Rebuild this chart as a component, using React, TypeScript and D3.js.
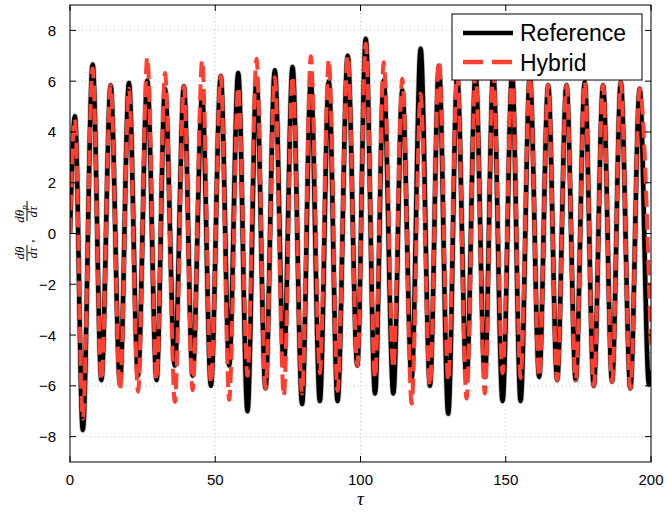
import React from "react";
import * as d3 from "d3";

// Extremes (tau, value)
const refTau = [0, 1.7, 4.4, 7.8, 10.8, 14.0, 17.2, 20.3, 23.4, 26.6, 29.8, 32.7, 36.1, 39.2, 42.2, 45.5, 48.5, 51.9, 54.8, 57.9, 61.1, 64.2, 67.3, 70.5, 73.6, 76.6, 79.9, 82.9, 86.0, 89.1, 92.1, 95.6, 98.9, 101.8, 105.0, 108.0, 111.3, 114.4, 117.6, 120.7, 123.9, 127.0, 130.2, 133.3, 136.5, 139.6, 142.8, 145.7, 148.9, 152.2, 155.1, 158.3, 161.5, 164.6, 167.7, 170.9, 174.1, 177.2, 180.3, 183.5, 186.6, 189.6, 192.9, 196.1, 199.3, 200];
const refVal = [0, 4.62, -7.74, 6.66, -5.77, 5.84, -5.9, 5.93, -5.6, 6.03, -5.77, 5.7, -5.2, 5.8, -5.6, 5.4, -6.0, 6.2, -5.2, 6.32, -7.0, 6.1, -6.1, 6.43, -5.2, 6.56, -6.72, 6.0, -6.6, 6.0, -6.6, 7.0, -5.2, 7.67, -6.3, 6.03, -6.3, 5.64, -5.7, 7.28, -6.0, 6.6, -7.1, 6.2, -5.8, 6.3, -5.65, 6.3, -6.6, 6.3, -6.6, 6.2, -5.65, 5.84, -5.77, 5.84, -5.77, 5.96, -6.0, 5.84, -5.83, 5.96, -6.1, 5.7, -5.95, -5.4];

const hybTau = [0, 1.7, 4.4, 7.8, 10.8, 14.0, 17.2, 20.3, 23.4, 26.6, 29.8, 32.7, 36.1, 39.2, 42.2, 45.5, 48.5, 51.9, 54.8, 57.9, 61.1, 64.2, 67.3, 70.5, 73.6, 76.6, 79.9, 82.9, 86.0, 89.1, 92.1, 95.6, 98.9, 101.8, 105.0, 108.0, 111.3, 114.4, 117.6, 120.7, 123.9, 127.0, 130.2, 133.3, 136.5, 139.6, 142.8, 145.7, 148.9, 152.2, 155.1, 158.3, 161.5, 164.6, 167.7, 170.9, 174.1, 177.2, 180.3, 183.5, 186.6, 189.6, 192.9, 196.1, 200];
const hybVal = [0, 4.5, -7.3, 6.5, -5.77, 5.84, -6.17, 5.7, -6.23, 6.94, -5.77, 6.32, -6.63, 5.8, -6.17, 6.82, -5.9, 6.2, -6.55, 5.77, -5.6, 6.88, -6.1, 6.15, -6.4, 6.2, -6.3, 6.98, -5.5, 6.85, -6.2, 7.0, -5.2, 7.47, -5.7, 6.75, -5.3, 6.1, -6.7, 5.5, -6.0, 6.78, -5.8, 6.3, -6.5, 6.3, -6.3, 6.3, -5.5, 6.3, -5.7, 6.2, -5.65, 5.84, -5.77, 5.84, -5.77, 5.96, -6.0, 5.84, -5.83, 5.96, -6.1, 5.7, -4.7];

const xTicks = [0, 50, 100, 150, 200];
const yTicks = [-8, -6, -4, -2, 0, 2, 4, 6, 8];
const legendLabels = ["Reference", "Hybrid"];

const RED = "rgb(255,64,48)";

export default function App() {
  const left = 70, right = 651, top = 5, bottom = 462;
  const x = d3.scaleLinear().domain([0, 200]).range([left, right]);
  const y = d3.scaleLinear().domain([-9, 9]).range([bottom, top]);
  const line = d3
    .line<[number, number]>()
    .x((d) => x(d[0]))
    .y((d) => y(d[1]))
    .curve(d3.curveMonotoneX);
  const refPts = refTau.map((t, i) => [t, refVal[i]] as [number, number]);
  const hybPts = hybTau.map((t, i) => [t, hybVal[i]] as [number, number]);
  const font = "'Liberation Sans', Arial, sans-serif";
  const serif = "'Liberation Serif', 'DejaVu Serif', serif";
  const tl = 6;

  return (
    <svg width={668} height={517} style={{ display: "block", position: "absolute", left: 0, top: 0 }}>
      <rect x={0} y={0} width={668} height={517} fill="#fff" />
      <defs>
        <clipPath id="plotclip">
          <rect x={left} y={top} width={right - left} height={bottom - top} />
        </clipPath>
      </defs>
      {/* grid */}
      {xTicks.map((t) => (
        <line key={"gx" + t} x1={x(t)} x2={x(t)} y1={top} y2={bottom} stroke="#c8c8c8" strokeWidth={1} strokeDasharray="1,3" />
      ))}
      {yTicks.map((t) => (
        <line key={"gy" + t} x1={left} x2={right} y1={y(t)} y2={y(t)} stroke="#c8c8c8" strokeWidth={1} strokeDasharray="1,3" />
      ))}
      <g clipPath="url(#plotclip)">
        <path d={line(refPts) || ""} fill="none" stroke="#888" strokeOpacity={0.5} strokeWidth={6} strokeLinejoin="round" />
        <path d={line(refPts) || ""} fill="none" stroke="#000" strokeWidth={4.5} strokeLinejoin="round" />
        <path d={line(hybPts) || ""} fill="none" stroke={RED} strokeWidth={4} strokeDasharray="16,7" />
      </g>
      {/* box */}
      <rect x={left} y={top} width={right - left} height={bottom - top} fill="none" stroke="#000" strokeWidth={1} />
      {/* ticks */}
      {xTicks.map((t) => (
        <g key={"tx" + t}>
          <line x1={x(t)} x2={x(t)} y1={bottom} y2={bottom - tl} stroke="#000" />
          <line x1={x(t)} x2={x(t)} y1={top} y2={top + tl} stroke="#000" />
          <text x={x(t)} y={485} textAnchor="middle" fontFamily={font} fontSize={15}>
            {t}
          </text>
        </g>
      ))}
      {yTicks.map((t) => (
        <g key={"ty" + t}>
          <line x1={left} x2={left + tl} y1={y(t)} y2={y(t)} stroke="#000" />
          <line x1={right} x2={right - tl} y1={y(t)} y2={y(t)} stroke="#000" />
          <text x={56} y={y(t) + 5.5} textAnchor="end" fontFamily={font} fontSize={15}>
            {t < 0 ? "\u2212" + Math.abs(t) : String(t)}
          </text>
        </g>
      ))}
      {/* x label */}
      <text x={(left + right) / 2} y={505} textAnchor="middle" fontFamily={serif} fontStyle="italic" fontSize={19}>
        τ
      </text>
      {/* y label: fractions, rotated */}
      <g transform="translate(27,234) rotate(-90)" fontFamily={serif} fontStyle="italic" fontSize={13}>
        <text x={-19} y={-3} textAnchor="middle">dθ</text>
        <line x1={-27} x2={-11} y1={0} y2={0} stroke="#000" strokeWidth={1} />
        <text x={-19} y={10} textAnchor="middle">dτ</text>
        <text x={-7} y={6} textAnchor="middle" fontStyle="normal">,</text>
        <text x={20} y={-3} textAnchor="middle">
          dθ<tspan fontSize={9} dy={3}>p</tspan>
        </text>
        <line x1={13} x2={33} y1={0} y2={0} stroke="#000" strokeWidth={1} />
        <text x={22} y={10} textAnchor="middle">dτ</text>
      </g>
      {/* legend */}
      <rect x={452} y={14} width={190} height={66} fill="#fff" stroke="#000" strokeWidth={1} />
      <line x1={463} x2={513} y1={33} y2={33} stroke="#000" strokeWidth={4.5} />
      <line x1={463} x2={513} y1={62} y2={62} stroke={RED} strokeWidth={4.5} strokeDasharray="20,9" />
      <text x={520} y={41} fontFamily={font} fontSize={23}>
        {legendLabels[0]}
      </text>
      <text x={520} y={71} fontFamily={font} fontSize={23}>
        {legendLabels[1]}
      </text>
    </svg>
  );
}
